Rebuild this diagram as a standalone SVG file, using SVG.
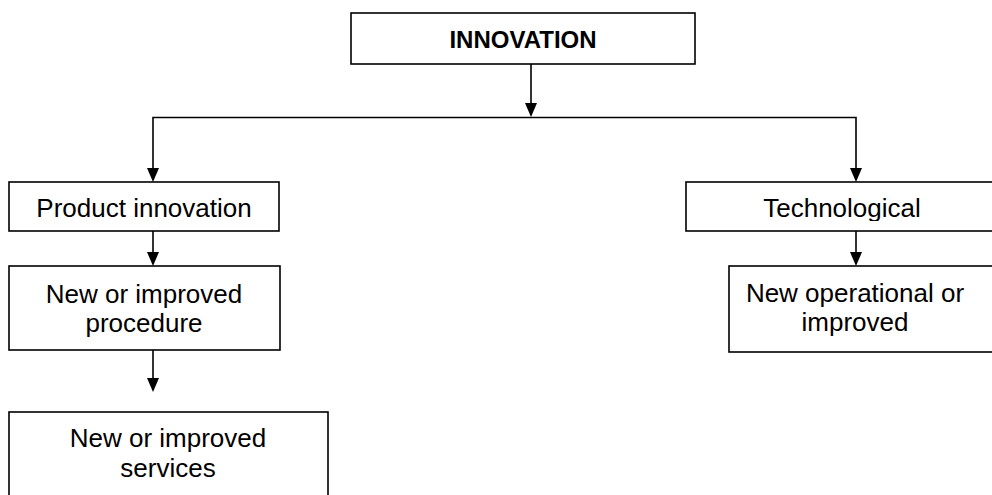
<svg xmlns="http://www.w3.org/2000/svg" width="992" height="495" viewBox="0 0 992 495">
<style>
.box{fill:#fff;stroke:#000;stroke-width:1.6}
.t{font-family:"Liberation Sans",Arial,sans-serif;font-size:26px;fill:#000;text-anchor:middle}
.b{font-weight:bold;font-size:24px}
.c{fill:none;stroke:#000;stroke-width:1.6}
.h{fill:#000}
</style>
<defs>
<clipPath id="clipTech"><rect x="686" y="182" width="320" height="39"/></clipPath>
</defs>
<rect width="992" height="495" fill="#fff"/>
<g id="connectors">
<line class="c" x1="531" y1="64" x2="531" y2="106"/>
<polygon class="h" points="525,103 537,103 531,117"/>
<polyline class="c" points="153,171 153,117.5 856,117.5 856,171"/>
<polygon class="h" points="147,168 159,168 153,182"/>
<polygon class="h" points="850,168 862,168 856,182"/>
<line class="c" x1="153" y1="231" x2="153" y2="255"/>
<polygon class="h" points="147,252 159,252 153,266"/>
<line class="c" x1="153" y1="350" x2="153" y2="380"/>
<polygon class="h" points="147,378 159,378 153,392"/>
<line class="c" x1="856" y1="231" x2="856" y2="255"/>
<polygon class="h" points="850,252 862,252 856,266"/>
</g>
<g id="node-innovation">
<rect class="box" x="351" y="13" width="344" height="51"/>
<text class="t b" x="523" y="48">INNOVATION</text>
</g>
<g id="node-product">
<rect class="box" x="9" y="182" width="270" height="49"/>
<text class="t" x="144" y="217">Product innovation</text>
</g>
<g id="node-procedure">
<rect class="box" x="9" y="266" width="271" height="84"/>
<text class="t" x="144" y="303">New or improved</text>
<text class="t" x="144" y="332">procedure</text>
</g>
<g id="node-services">
<rect class="box" x="9" y="412" width="319" height="100"/>
<text class="t" x="168" y="447">New or improved</text>
<text class="t" x="168" y="477">services</text>
</g>
<g id="node-technological">
<rect class="box" x="686" y="182" width="320" height="49"/>
<text class="t" x="842" y="217" clip-path="url(#clipTech)">Technological</text>
</g>
<g id="node-operational">
<rect class="box" x="729" y="266" width="280" height="86"/>
<text class="t" x="855" y="302">New operational or</text>
<text class="t" x="855" y="331">improved</text>
</g>
</svg>
